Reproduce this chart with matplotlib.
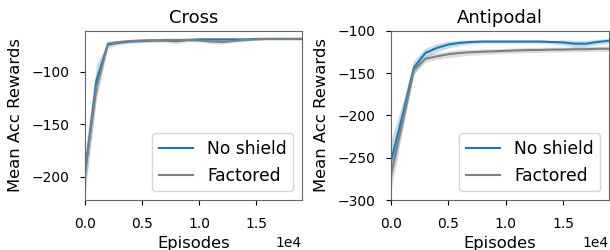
import numpy as np
import matplotlib.pyplot as plt

# Episodes (every 1000)
episodes = np.arange(0, 20000, 1000)

# Cross environment
cross_noshield = [-197, -108, -74, -72, -71, -70.5, -70, -70, -70.5, -69.5,
                  -69, -69, -69, -69, -69, -68.5, -68.5, -68.5, -68.5, -68.5]
cross_noshield_std = [20, 15, 3, 2, 1.5, 1.5, 1.5, 1.5, 2.5, 1.5,
                      1.5, 1.5, 1.5, 1.5, 1, 1, 1, 1, 1, 1]
cross_factored = [-195, -115, -73, -71.5, -70.5, -70, -70, -69.5, -69.5, -69.5,
                  -70, -71, -71.5, -70.5, -69.5, -69, -68.5, -68.5, -68.5, -68.5]
cross_factored_std = [15, 12, 2, 1.5, 1.5, 1.5, 1.5, 1.5, 1.5, 1.5,
                      1.5, 2, 2, 1.5, 1.5, 1, 1, 1, 1, 1]

# Antipodal environment
anti_noshield = [-254, -200, -143, -126, -120, -116, -114, -113, -112.5, -112.5,
                 -112.5, -112.5, -112.5, -112.5, -113, -113.5, -115, -115, -113, -111.5]
anti_noshield_std = [25, 15, 8, 6, 5, 4, 3, 2.5, 2, 2,
                     2, 2, 2, 2, 2, 3, 4, 4, 3, 3]
anti_factored = [-270, -208, -146, -133, -130, -127.5, -126, -125, -124.5, -124,
                 -123.5, -123, -122.5, -122.5, -122, -122, -121.5, -121.5, -121, -121]
anti_factored_std = [20, 10, 5, 4, 4, 4, 4, 3.5, 3.5, 3,
                     3, 3, 3, 3, 3, 3, 3, 3, 3, 3]

fig = plt.figure(figsize=(6.1, 2.5), dpi=100)
ax1 = fig.add_axes([85 / 610, 50 / 250, 217 / 610, 169 / 250])
ax2 = fig.add_axes([391 / 610, 50 / 250, 218 / 610, 169 / 250])


def draw(ax, title, ns, ns_std, fa, fa_std, ylim, yticks):
    ns = np.array(ns)
    fa = np.array(fa)
    ax.plot(episodes, ns, color="#1f77b4", lw=1.5, label="No shield")
    ax.fill_between(episodes, ns - np.array(ns_std), ns + np.array(ns_std),
                    color="#1f77b4", alpha=0.25, lw=0)
    ax.plot(episodes, fa, color="gray", lw=1.5, label="Factored")
    ax.fill_between(episodes, fa - np.array(fa_std), fa + np.array(fa_std),
                    color="gray", alpha=0.25, lw=0)
    ax.set_xlim(0, 19000)
    ax.set_ylim(*ylim)
    ax.set_yticks(yticks)
    ax.set_xticks([0, 5000, 10000, 15000])
    ax.ticklabel_format(axis="x", style="sci", scilimits=(0, 0))
    ax.xaxis.get_offset_text().set_fontsize(10)
    ax.set_title(title, fontsize=13, pad=6)
    ax.set_xlabel("Episodes", fontsize=11.8, labelpad=3)
    ax.set_ylabel("Mean Acc Rewards", fontsize=11.8, labelpad=6)
    ax.tick_params(labelsize=10, pad=7.5)
    ax.tick_params(axis="x", pad=9)
    for s in ax.spines.values():
        s.set_color("0.4")
    ax.legend(loc="lower right", fontsize=12.3, handlelength=2.0)


draw(ax1, "Cross", cross_noshield, cross_noshield_std,
     cross_factored, cross_factored_std, (-222, -61), [-100, -150, -200])
draw(ax2, "Antipodal", anti_noshield, anti_noshield_std,
     anti_factored, anti_factored_std, (-300, -100), [-100, -150, -200, -250, -300])

fig.savefig("out.png", dpi=100)
